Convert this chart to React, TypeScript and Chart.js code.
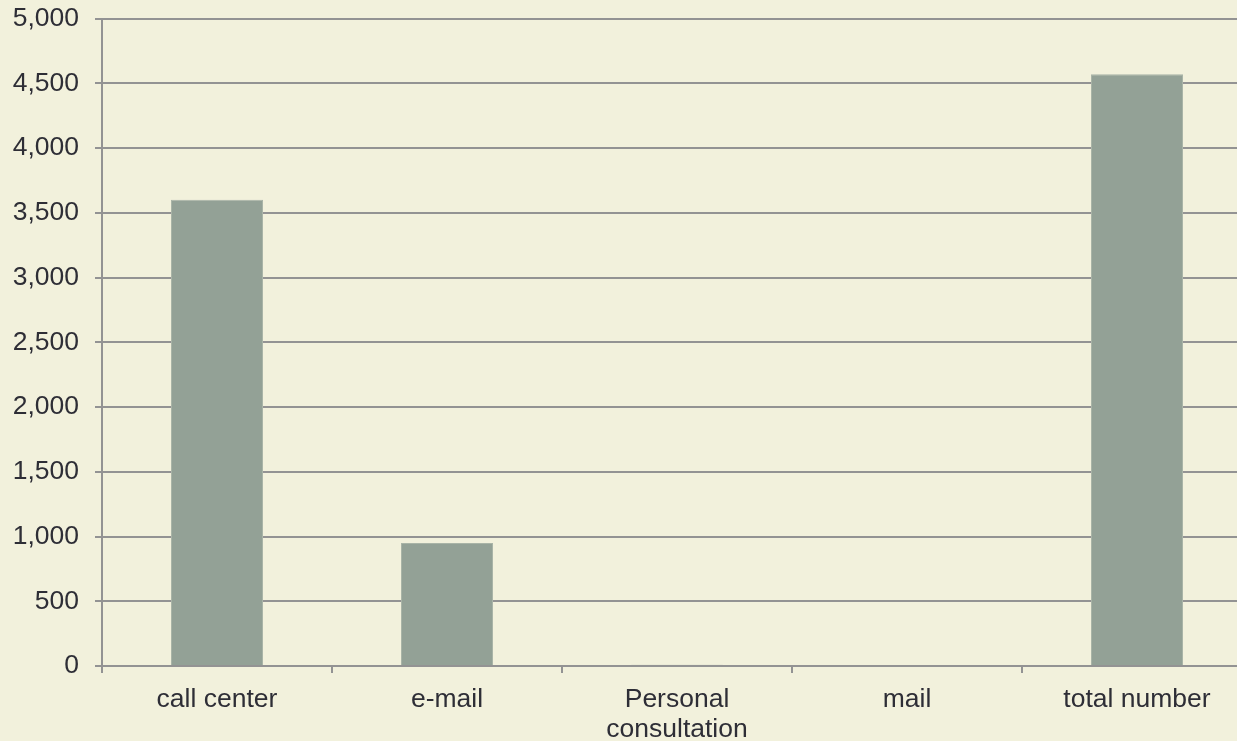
import React, { useEffect, useRef } from "react";
import { Chart, registerables } from "chart.js";

Chart.register(...registerables);

const categories: (string | string[])[] = [
  "call center",
  "e-mail",
  ["Personal", "consultation"],
  "mail",
  "total number",
];
const values: number[] = [3600, 950, 10, 0, 4570];

const BG = "#F2F1DC";
const GRID = "#939393";
const TEXT = "#2e2e36";
const FONT = "'Liberation Sans', Arial, sans-serif";

export default function App() {
  const ref = useRef<HTMLCanvasElement | null>(null);

  useEffect(() => {
    document.body.style.margin = "0";
    document.body.style.background = BG;
    const bgPlugin = {
      id: "bg",
      beforeDraw(chart: any) {
        const ctx = chart.ctx;
        ctx.save();
        ctx.fillStyle = BG;
        ctx.fillRect(0, 0, chart.width, chart.height);
        ctx.restore();
      },
    };
    const chart = new Chart(ref.current!, {
      type: "bar",
      data: {
        labels: categories as any,
        datasets: [
          {
            data: values,
            backgroundColor: "#93A196",
            borderColor: "#a9b4a7",
            borderWidth: 1,
            barPercentage: 0.4,
            categoryPercentage: 1,
          },
        ],
      },
      options: {
        animation: false,
        responsive: false,
        maintainAspectRatio: false,
        layout: { padding: { left: 0, right: 8, top: 0, bottom: 0 } },
        plugins: {
          legend: { display: false },
          tooltip: { enabled: false },
        },
        scales: {
          x: {
            afterFit(scale: any) {
              scale.height = 75;
            },
            grid: {
              offset: true,
              drawOnChartArea: false,
              drawTicks: true,
              tickLength: 7,
              color: GRID,
              lineWidth: 2,
            },
            border: { color: GRID, width: 2 },
            ticks: {
              color: TEXT,
              font: { family: FONT, size: 26.5, lineHeight: 1.15 },
              padding: 11,
              maxRotation: 0,
              autoSkip: false,
            },
          },
          y: {
            min: 0,
            max: 5000,
            afterFit(scale: any) {
              scale.width = 102;
              scale.paddingTop = 18.5;
              scale.paddingBottom = 0;
            },
            grid: {
              color: GRID,
              lineWidth: 2,
              tickLength: 7,
            },
            border: { color: GRID, width: 2 },
            ticks: {
              stepSize: 500,
              color: TEXT,
              padding: 16,
              font: { family: FONT, size: 26.5 },
              callback: (v: any) => Number(v).toLocaleString("en-US"),
            },
          },
        },
      },
      plugins: [bgPlugin],
    });
    return () => chart.destroy();
  }, []);

  return (
    <div style={{ width: 1237, height: 741, overflow: "hidden", background: BG }}>
      <canvas ref={ref} width={1260} height={741} style={{ display: "block" }} />
    </div>
  );
}
